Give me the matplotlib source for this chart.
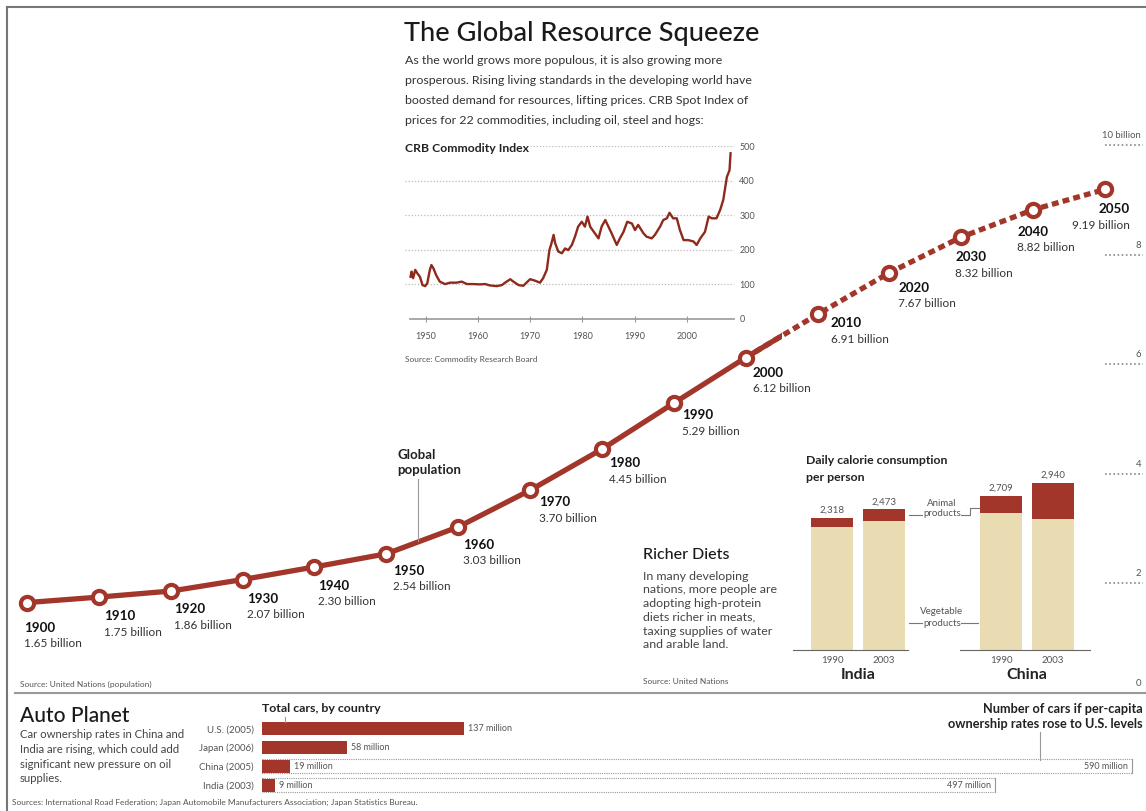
import matplotlib
matplotlib.use("Agg")
import matplotlib.pyplot as plt
from matplotlib.lines import Line2D
from matplotlib.patches import Rectangle

plt.rcParams['font.family'] = ['Lato', 'DejaVu Sans']

# population (billions)
pop_years = [1900, 1910, 1920, 1930, 1940, 1950, 1960, 1970, 1980, 1990,
             2000, 2010, 2020, 2030, 2040, 2050]
pop_values = [1.65, 1.75, 1.86, 2.07, 2.30, 2.54, 3.03, 3.70, 4.45, 5.29,
              6.12, 6.91, 7.67, 8.32, 8.82, 9.19]
pop_ticks = [0, 2, 4, 6, 8, 10]
pop_tick_labels = ['0', '2', '4', '6', '8', '10 billion']

# CRB commodity index
crb_years = [1947.1, 1947.3, 1947.6, 1948.0, 1948.4, 1948.9, 1949.4, 1949.9, 1950.3,
             1950.8, 1951.1, 1951.5, 1952.0, 1952.7, 1953.7, 1954.7, 1955.9, 1956.9,
             1957.9, 1959.1, 1960.4, 1961.4, 1962.3, 1963.6, 1964.6, 1965.2, 1966.2,
             1966.8, 1967.8, 1968.7, 1969.3, 1970.0, 1970.9, 1971.9, 1972.5, 1973.2,
             1973.7, 1974.1, 1974.5, 1974.8, 1975.4, 1976.1, 1976.7, 1977.3, 1978.0,
             1978.6, 1979.2, 1979.9, 1980.5, 1981.0, 1981.5, 1982.2, 1983.1, 1983.7,
             1984.4, 1985.0, 1985.6, 1986.6, 1987.2, 1987.9, 1988.6, 1989.5, 1990.1,
             1990.7, 1991.7, 1992.3, 1993.3, 1993.9, 1994.9, 1995.5, 1996.2, 1996.7,
             1997.4, 1998.1, 1998.7, 1999.4, 2000.3, 2001.3, 2001.9, 2002.6, 2003.5,
             2004.2, 2004.8, 2005.7, 2006.4, 2007.0, 2007.7, 2008.2, 2008.4]
crb_values = [122, 137, 118, 142, 132, 122, 98, 95, 103,
              142, 156, 146, 127, 108, 101, 105, 105, 108,
              101, 101, 100, 101, 97, 95, 98, 105, 115,
              108, 98, 96, 105, 115, 111, 105, 118, 142,
              199, 219, 243, 219, 195, 190, 204, 199, 214,
              238, 267, 281, 267, 296, 267, 252, 233, 267,
              286, 267, 248, 214, 233, 252, 281, 276, 257,
              272, 248, 238, 233, 243, 267, 286, 291, 307,
              291, 291, 257, 228, 228, 224, 214, 233, 252,
              296, 291, 291, 315, 344, 411, 430, 479]
crb_ticks = [1950, 1960, 1970, 1980, 1990, 2000]

# daily calories per person
cal_years = ['1990', '2003']
india_total = [2318, 2473]
india_animal = [158, 205]
china_total = [2709, 2940]
china_animal = [305, 645]

# cars (millions)
car_countries = ['U.S. (2005)', 'Japan (2006)', 'China (2005)', 'India (2003)']
car_totals = [137, 58, 19, 9]
car_potential = [None, None, 590, 497]

RED = '#a3362a'
BEIGE = '#e9dcb2'
GRAY = '#555555'
W, H = 1146, 811

fig = plt.figure(figsize=(W / 100, H / 100), dpi=100)


def fx(x):
    return x / W


def fy(y):
    return 1 - y / H


def rect(x0, y0, x1, y1):
    return [fx(x0), fy(y1), (x1 - x0) / W, (y1 - y0) / H]


def txt(x, y, s, **kw):
    kw.setdefault('va', 'center')
    kw.setdefault('color', '#222222')
    fig.text(fx(x), fy(y), s, **kw)


def fline(xs, ys, **kw):
    fig.add_artist(Line2D([fx(v) for v in xs], [fy(v) for v in ys], **kw))


# frame lines
fline([7, W], [7, 7], color='#777777', lw=1.5)
fline([7, 7], [7, H], color='#777777', lw=1.5)
fline([15, W], [693, 693], color='#999999', lw=1.5)

# ---- population line (whole canvas, pixel-mapped) ----
px_year, x1900 = 7.187, 27
px_bn, y_zero = 54.8, 693
ax = fig.add_axes([0, 0, 1, 1])
ax.set_xlim(1900 - x1900 / px_year, 1900 + (W - x1900) / px_year)
ax.set_ylim((y_zero - H) / px_bn, y_zero / px_bn)
ax.axis('off')

i2000 = pop_years.index(2000)
ax.plot(pop_years[:i2000 + 1], pop_values[:i2000 + 1], color=RED, lw=3.8,
        solid_capstyle='butt', zorder=2)
ax.plot(pop_years[i2000:], pop_values[i2000:], color=RED, lw=3.8,
        linestyle=(0, (1.3, 0.8)), zorder=2)
# solid part carries on to about halfway towards 2010
solid_end, = ax.plot(pop_years[i2000:i2000 + 2], pop_values[i2000:i2000 + 2],
                     color=RED, lw=3.8, solid_capstyle='butt', zorder=2)
clip = Rectangle((1990, 0), 15, 12, transform=ax.transData)
solid_end.set_clip_path(clip)
ax.plot(pop_years, pop_values, 'o', ms=9.5, mfc='white', mec=RED, mew=3, zorder=3)

label_offsets = [(-3, 25), (5, 19), (3, 18), (4, 19), (4, 19), (7, 17), (5, 18),
                 (9, 12), (7, 14), (8, 12), (7, 15), (13, 9), (9, 15), (-6, 20),
                 (-16, 22), (25, 20)]
for yr, v, (dx, dy) in zip(pop_years, pop_values, label_offsets):
    ha = 'right' if yr == 2050 else 'left'
    ax.annotate(str(yr), (yr, v), xytext=(dx, -dy), textcoords='offset pixels',
                ha=ha, va='center', fontsize=9.6, fontweight='bold', color='#111111')
    ax.annotate(f'{v:.2f} billion', (yr, v), xytext=(dx, -dy - 16),
                textcoords='offset pixels', ha=ha, va='center', fontsize=8.5,
                color='#333333')

# right-hand scale
x_a = 1900 + (1105 - x1900) / px_year
x_b = 1900 + (1143 - x1900) / px_year
for v, lab in zip(pop_ticks, pop_tick_labels):
    if v > 0:
        ax.plot([x_a, x_b], [v, v], color='#888888', lw=1.2, linestyle=(0, (1, 1.5)))
    ax.annotate(lab, (x_b, v), xytext=(-2, 5), textcoords='offset pixels',
                ha='right', va='bottom', fontsize=6.8, color=GRAY)

txt(397, 455, 'Global', fontsize=9.5, fontweight='bold')
txt(397, 470, 'population', fontsize=9.5, fontweight='bold')
fline([418, 418], [479, 541], color='#999999', lw=0.8)
txt(20, 684, 'Source: United Nations (population)', fontsize=6.0, color=GRAY)

# ---- title block ----
txt(404, 33, 'The Global Resource Squeeze', fontsize=19.5, fontweight='medium',
    color='#1a1a1a')
intro = ['As the world grows more populous, it is also growing more',
         'prosperous. Rising living standards in the developing world have',
         'boosted demand for resources, lifting prices. CRB Spot Index of',
         'prices for 22 commodities, including oil, steel and hogs:']
for i, line in enumerate(intro):
    txt(405, 60 + i * 20, line, fontsize=8.9, color='#333333')

# ---- CRB inset ----
axc = fig.add_axes(rect(404.8, 146, 733.7, 319))
axc.set_facecolor('none')
axc.set_xlim(1946, 2009)
axc.set_ylim(0, 500)
for v in [100, 200, 300, 400, 500]:
    axc.axhline(v, color='#bbbbbb', lw=0.9, linestyle=(0, (1, 1.5)), zorder=0)
axc.plot([1947, 2009], [0, 0], color='#999999', lw=1.2, clip_on=False)
axc.plot(crb_years, crb_values, color='#8e2a1c', lw=1.7, clip_on=False)
for s in axc.spines.values():
    s.set_visible(False)
axc.set_xticks(crb_ticks)
axc.set_xticklabels([str(t) for t in crb_ticks], fontsize=6.5, color=GRAY)
axc.tick_params(axis='x', length=5, direction='inout', color='#999999', pad=7)
axc.yaxis.tick_right()
axc.set_yticks([0, 100, 200, 300, 400, 500])
axc.set_yticklabels(['0', '100', '200', '300', '400', '500'], fontsize=6.5, color=GRAY)
axc.tick_params(axis='y', length=0, pad=4)
txt(405, 148, 'CRB Commodity Index', fontsize=8.8, fontweight='bold',
    bbox=dict(facecolor='white', edgecolor='none', pad=1))
txt(405, 360, 'Source: Commodity Research Board', fontsize=6.0, color=GRAY)

# ---- calorie chart ----
kcal_px = 0.0569
top_val = (650 - 470) / kcal_px
unit = 52
for name, tot, ani, x0, x1, xc in [('India', india_total, india_animal, 793, 908, 832),
                                   ('China', china_total, china_animal, 960, 1090, 1001)]:
    a = fig.add_axes(rect(x0, 470, x1, 650))
    a.set_facecolor('none')
    a.set_xlim((x0 - xc) / unit, (x1 - xc) / unit)
    a.set_ylim(0, top_val)
    veg = [t - m for t, m in zip(tot, ani)]
    a.bar([0, 1], veg, width=0.81, color=BEIGE)
    a.bar([0, 1], ani, bottom=veg, width=0.81, color=RED)
    for i, t in enumerate(tot):
        a.annotate(f'{t:,}', (i, t), xytext=(0, 3), textcoords='offset pixels',
                   ha='center', va='bottom', fontsize=7, color=GRAY)
    for s in ['top', 'left', 'right']:
        a.spines[s].set_visible(False)
    a.spines['bottom'].set_color('#666666')
    a.set_yticks([])
    a.set_xticks([0, 1])
    a.set_xticklabels(cal_years, fontsize=7, color=GRAY)
    a.tick_params(axis='x', length=0, pad=4)
    txt(xc + unit / 2, 675, name, fontsize=11.5, fontweight='bold', ha='center')

txt(806, 461, 'Daily calorie consumption', fontsize=8.8, fontweight='bold')
txt(806, 477, 'per person', fontsize=8.8, fontweight='bold')
txt(942, 503, 'Animal', fontsize=7, color=GRAY, ha='center')
txt(942, 514, 'products', fontsize=7, color=GRAY, ha='center')
txt(942, 612, 'Vegetable', fontsize=7, color=GRAY, ha='center')
txt(942, 623, 'products', fontsize=7, color=GRAY, ha='center')
fline([909, 922], [515, 515], color='#777777', lw=0.8)
fline([961, 970, 970, 979], [515, 515, 508, 508], color='#777777', lw=0.8)
fline([909, 922], [623, 623], color='#777777', lw=0.8)
fline([961, 978], [623, 623], color='#777777', lw=0.8)

txt(643, 555, 'Richer Diets', fontsize=11.5, fontweight='medium', color='#1a1a1a')
diet = ['In many developing', 'nations, more people are', 'adopting high-protein',
        'diets richer in meats,', 'taxing supplies of water', 'and arable land.']
for i, line in enumerate(diet):
    txt(643, 576 + i * 13.8, line, fontsize=8.9, color='#444444')
txt(643, 682, 'Source: United Nations', fontsize=6.0, color=GRAY)

# ---- cars ----
car_px = 1.474
axr = fig.add_axes(rect(262, 719.5, W, 794.5))
axr.set_facecolor('none')
axr.set_xlim(0, (W - 262) / car_px)
axr.set_ylim(3.5, -0.5)
rows = list(range(len(car_countries)))
for r, pot in zip(rows, car_potential):
    if pot is not None:
        axr.add_patch(Rectangle((0, r - 0.37), pot, 0.74, fill=False, edgecolor='#999999',
                                lw=0.8, linestyle=(0, (1, 1))))
        axr.plot([pot, pot], [r - 0.37, r + 0.37], color='#999999', lw=0.8)
        axr.annotate(f'{pot} million', (pot, r), xytext=(-4, 0), textcoords='offset pixels',
                     ha='right', va='center', fontsize=6.5, color=GRAY)
axr.barh(rows, car_totals, height=0.7, color=RED)
for r, v in zip(rows, car_totals):
    axr.annotate(f'{v} million', (v, r), xytext=(4, 0), textcoords='offset pixels',
                 ha='left', va='center', fontsize=6.5, color=GRAY)
for s in axr.spines.values():
    s.set_visible(False)
axr.set_xticks([])
axr.set_yticks(rows)
axr.set_yticklabels(car_countries, fontsize=7, color=GRAY)
axr.tick_params(axis='y', length=0, pad=6)

txt(262, 709, 'Total cars, by country', fontsize=8.9, fontweight='bold')
fline([285, 285], [717, 722], color='#999999', lw=0.8)
txt(1143, 709, 'Number of cars if per-capita', fontsize=9.2, fontweight='bold', ha='right')
txt(1143, 724, 'ownership rates rose to U.S. levels', fontsize=9.2, fontweight='bold', ha='right')
fline([1040, 1040], [732, 760], color='#999999', lw=0.8)

txt(20, 716, 'Auto Planet', fontsize=15, fontweight='medium', color='#1a1a1a')
auto = ['Car ownership rates in China and', 'India are rising, which could add',
        'significant new pressure on oil', 'supplies.']
for i, line in enumerate(auto):
    txt(20, 735 + i * 14.6, line, fontsize=8.2, color='#444444')
txt(12, 802, 'Sources: International Road Federation; Japan Automobile Manufacturers '
    'Association; Japan Statistics Bureau.', fontsize=6.0, color=GRAY)

fig.savefig('out.png', dpi=100, facecolor='white')
